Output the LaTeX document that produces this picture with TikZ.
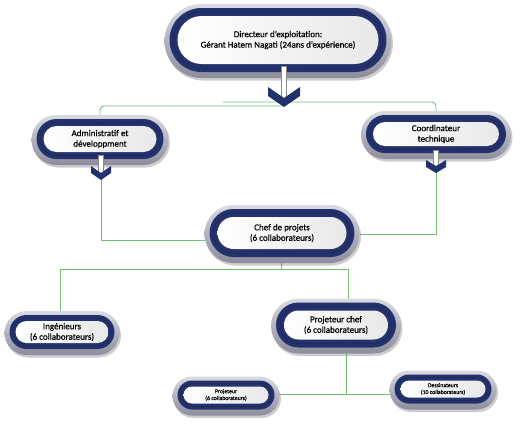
\documentclass[tikz,border=0pt]{standalone}
\usepackage{fontspec}
\setmainfont[FakeBold=0.6]{Carlito}
\usetikzlibrary{shapes.misc,shadows,backgrounds}
\definecolor{navy}{RGB}{33,50,108}
\definecolor{navyline}{RGB}{48,30,82}
\definecolor{linkc}{RGB}{112,192,118}
\definecolor{rimtop}{RGB}{218,218,226}
\definecolor{rimbot}{RGB}{140,140,156}
\tikzset{
  pillbase/.style={rounded rectangle, inner sep=0pt, outer sep=0pt},
  rim/.style={pillbase, top color=rimtop, bottom color=rimbot, draw=none,
    drop shadow={shadow xshift=1.5pt, shadow yshift=-2.5pt, opacity=.28, fill=black!70}},
  band/.style={pillbase, fill=navy, draw=none},
  bandline/.style={pillbase, draw=navyline, line width=0.5pt, fill=none},
  core/.style={pillbase, left color=white, right color=black!9, draw=none},
  label/.style={inner sep=0pt, align=center, text=black},
  bigtxt/.style={font=\fontsize{9}{10.5}\selectfont},
  smalltxt/.style={font=\fontsize{5.8}{6.8}\selectfont},
  link/.style={draw=linkc, line width=0.9pt},
  stem/.style={fill=white, draw=black!45, line width=0.6pt},
}
% name, x, y, W, H, band, text style, text
\newcommand\pill[8]{%
  \node[rim, minimum width={#4pt+10pt}, minimum height={#5pt+10pt}] (#1-g) at (#2,#3+1) {};
  \node[band, minimum width={#4pt}, minimum height={#5pt}] (#1-n) at (#2,#3) {};
  \node[bandline, minimum width={#4pt-#6pt}, minimum height={#5pt-#6pt}] (#1-l) at (#2,#3) {};
  \node[core, minimum width={#4pt-2*#6pt}, minimum height={#5pt-2*#6pt}] (#1-w) at (#2,#3) {};
  \node[label, #7] (#1) at (#2,#3) {#8};
}
% name of tip, x, stem top, chevron top, half width, notch depth, thickness
\newcommand\flowarrow[7]{%
  \path[stem] (#2-2.5,#3) rectangle (#2+2.5,#4+#6);
  \fill[navy] (#2-#5,#4) -- (#2,#4+#6) -- (#2+#5,#4) -- (#2+#5,#4+#7)
     -- (#2,#4+#6+#7) -- (#2-#5,#4+#7) -- cycle;
  \coordinate (#1) at (#2,#4+#6+#7-3);
}
\begin{document}
\begin{tikzpicture}[x=1pt,y=-1pt]
\useasboundingbox (0,0) rectangle (530,434);

\pill{top}{278}{40}{217}{64}{8}{bigtxt}{Directeur d’exploitation:\\Gérant Hatem Nagati (24ans d’expérience)}
\pill{adm}{100}{139}{127}{40}{7}{bigtxt}{Administratif et\\développment}
\pill{coo}{436}{134}{140}{38}{7}{bigtxt}{Coordinateur\\technique}
\pill{chef}{282}{233}{145}{48}{8}{bigtxt}{Chef de projets\\(6 collaborateurs)}
\pill{ing}{62}{332}{105}{34}{6}{bigtxt}{Ingénieurs\\(6 collaborateurs)}
\pill{pc}{336}{325}{120}{45}{8}{bigtxt}{Projeteur chef\\(6 collaborateurs)}
\pill{proj}{226}{395}{97}{29}{6}{smalltxt}{Projeteur\\(6 collaborateurs)}
\pill{des}{443}{389}{97}{29}{6}{smalltxt}{Dessinateurs\\(10 collaborateurs)}

\flowarrow{topTip}{284}{66}{87}{16}{11}{9}
\flowarrow{admTip}{101}{155}{166}{10}{7}{7}
\flowarrow{cooTip}{436}{150}{160}{10}{6}{7}

\coordinate (tl) at (283,106);
\coordinate (tr) at (223,102);
\coordinate (bm) at (281,269);
\coordinate (bl) at (60,269);
\coordinate (br) at (348,269);
\coordinate (pm) at (346,394);

\begin{pgfonlayer}{background}
\fill[white] (0,0) rectangle (530,434);
\draw[link, rounded corners=4pt] (adm-n.north) |- (tl);
\draw[link, rounded corners=4pt] (tr) -| (coo-n.north);
\draw[link] (admTip) |- ([yshift=-6pt]chef-g.west);
\draw[link] (cooTip) |- (chef-g.east);
\draw[link] (chef-n.south -| bm) -- (bm);
\draw[link] (ing-n.north -| bl) |- (br) -- (pc-n.north -| br);
\draw[link] (pc-n.south -| pm) -- (pm);
\draw[link] (proj-n.east |- pm) -- (des-n.west |- pm);
\end{pgfonlayer}
\end{tikzpicture}
\end{document}
